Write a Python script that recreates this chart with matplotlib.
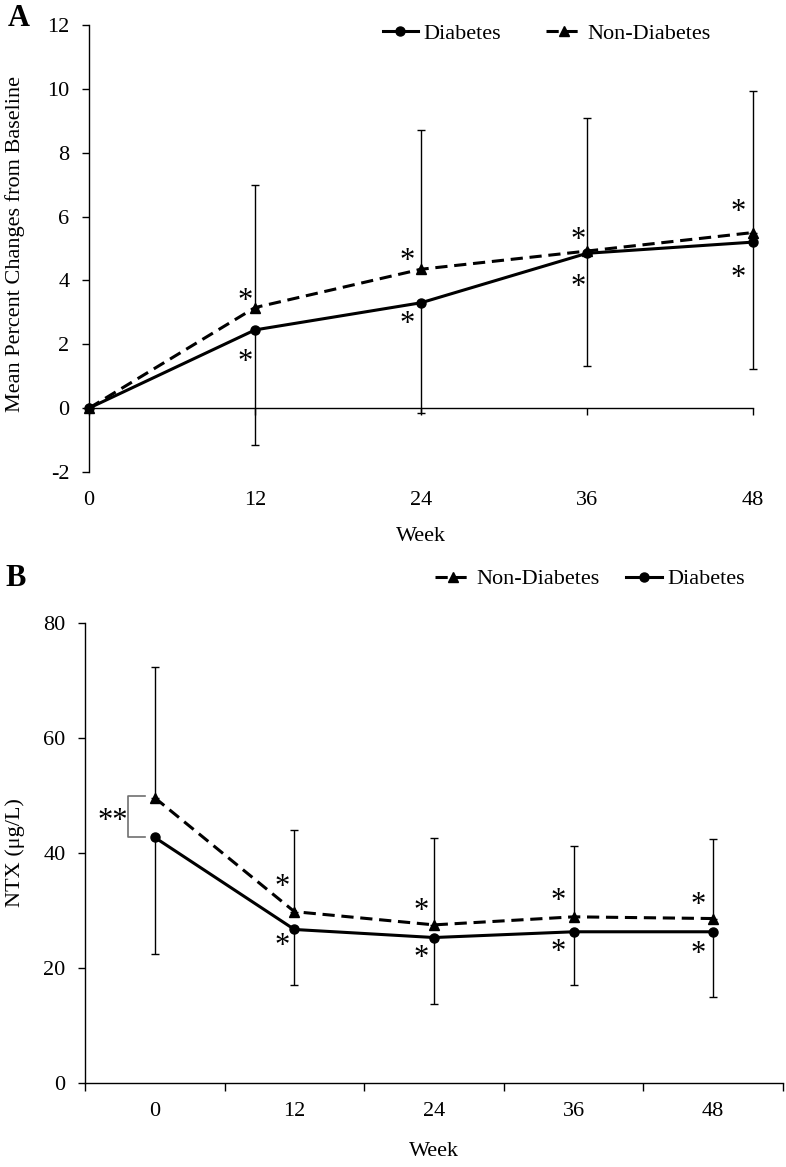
import matplotlib
matplotlib.use("Agg")
import matplotlib.pyplot as plt
from matplotlib.lines import Line2D

plt.rcParams["font.family"] = ["Liberation Serif", "DejaVu Serif"]
plt.rcParams["font.size"] = 16

# Panel A: mean percent change from baseline
weeks = [0, 12, 24, 36, 48]
a_diab = [0.0, 2.45, 3.30, 4.85, 5.20]
a_nondiab = [0.0, 3.15, 4.35, 4.92, 5.50]
a_upper = [0.0, 7.00, 8.72, 9.08, 9.92]   # top of bar (Non-Diabetes + SD)
a_lower = [0.0, -1.15, -0.15, 1.32, 1.22]  # bottom of bar (Diabetes - SD)
a_yticks = [-2, 0, 2, 4, 6, 8, 10, 12]

# Panel B: NTX
b_labels = ["0", "12", "24", "36", "48"]
b_diab = [42.7, 26.7, 25.3, 26.3, 26.3]
b_nondiab = [49.6, 29.8, 27.5, 28.9, 28.6]
b_upper = [72.3, 44.0, 42.6, 41.3, 42.4]
b_lower = [22.4, 17.0, 13.7, 17.1, 15.0]
b_yticks = [0, 20, 40, 60, 80]

W, H = 786, 1167
STAR = 22
fig = plt.figure(figsize=(W / 100, H / 100), dpi=100)


def frac(x0, y0, x1, y1):
    return [x0 / W, 1 - y1 / H, (x1 - x0) / W, (y1 - y0) / H]


def half_bars(ax, x, y, lo, hi):
    c = ax.errorbar(x, y, yerr=[lo, hi], fmt="none", ecolor="black",
                    elinewidth=1.0, capsize=3, capthick=1.0)
    for art in c.lines[1] + c.lines[2]:
        art.set_clip_on(False)


def stars(ax, xs, ys_hi, ys_lo, up_px, down_px, dx_px):
    lift = 0.22 * STAR  # ink of "*" sits above the text centre
    for x, yh, yl, u, d, dx in zip(xs, ys_hi, ys_lo, up_px, down_px, dx_px):
        ax.annotate("*", (x, yh), xytext=(dx * 0.72, (u - lift) * 0.72),
                    textcoords="offset points", ha="center", va="center",
                    fontsize=STAR, annotation_clip=False)
        ax.annotate("*", (x, yl), xytext=(dx * 0.72, (-d - lift) * 0.72),
                    textcoords="offset points", ha="center", va="center",
                    fontsize=STAR, annotation_clip=False)


hd = Line2D([], [], color="black", lw=2.2, marker="o", ms=6.5)
hn = Line2D([], [], color="black", lw=2.2, ls=(0, (4, 2.2)), marker="^", ms=7)

# ---------------- Panel A ----------------
axa = fig.add_axes(frac(89, 25, 753, 472))
axa.set_xlim(0, 48)
axa.set_ylim(-2, 12)

lo = [d - l for d, l in zip(a_diab, a_lower)]
hi = [u - n for u, n in zip(a_upper, a_nondiab)]
half_bars(axa, weeks[1:], a_diab[1:], lo[1:], [0] * 4)
half_bars(axa, weeks[1:], a_nondiab[1:], [0] * 4, hi[1:])
axa.plot(weeks, a_nondiab, color="black", lw=2.2, ls=(0, (4, 2.2)), marker="^",
         ms=7, clip_on=False, zorder=3)
axa.plot(weeks, a_diab, color="black", lw=2.2, marker="o", ms=6.5,
         clip_on=False, zorder=4)
stars(axa, weeks[1:], a_nondiab[1:], a_diab[1:],
      [11, 13, 15, 25], [28, 17, 29, 32], [-10, -14, -9, -15])

for s in ["top", "right", "bottom"]:
    axa.spines[s].set_visible(False)
axa.spines["left"].set_linewidth(1.0)
axa.set_yticks(a_yticks)
axa.set_yticklabels([str(v) for v in a_yticks])
axa.tick_params(axis="y", direction="out", length=5, width=1.0, pad=9)
axa.set_xticks(weeks)
axa.set_xticklabels([str(w) for w in weeks])
axa.tick_params(axis="x", length=0, pad=14)
zero = axa.secondary_xaxis(2 / 14)
zero.set_xticks(weeks)
zero.tick_params(axis="x", direction="out", length=5, width=1.0, labelbottom=False)
zero.spines["bottom"].set_linewidth(1.0)
axa.set_xlabel("Week", labelpad=12)
axa.set_ylabel("Mean Percent Changes from Baseline")
axa.yaxis.set_label_coords((25 - 89) / 664, 0.51)

axa.legend([hd, hn], ["Diabetes", "Non-Diabetes"], ncol=2, frameon=False,
           loc="upper right", bbox_to_anchor=(0.949, 1.023), borderaxespad=0,
           handlelength=1.6, columnspacing=2.0, handletextpad=0.25)
fig.text(8 / W, 1 - 19 / H, "A", fontsize=22, fontweight="bold", va="center")

# ---------------- Panel B ----------------
axb = fig.add_axes(frac(85, 623, 783, 1083))
xb = list(range(len(b_labels)))
axb.set_xlim(-0.5, 4.5)
axb.set_ylim(0, 80)

lo = [d - l for d, l in zip(b_diab, b_lower)]
hi = [u - n for u, n in zip(b_upper, b_nondiab)]
half_bars(axb, xb, b_diab, lo, [0] * 5)
half_bars(axb, xb, b_nondiab, [0] * 5, hi)
axb.plot(xb, b_nondiab, color="black", lw=2.2, ls=(0, (4, 2.2)), marker="^",
         ms=7, zorder=3)
axb.plot(xb, b_diab, color="black", lw=2.2, marker="o", ms=6.5, zorder=4)
stars(axb, xb[1:], b_nondiab[1:], b_diab[1:],
      [29, 18, 20, 18], [12, 16, 16, 18], [-12, -13, -15, -15])

# bracket for baseline difference
bx0, bx1 = -0.193, -0.072
axb.plot([bx1, bx0, bx0, bx1], [49.9, 49.9, b_diab[0], b_diab[0]],
         color="#707070", lw=1.2, zorder=2)
axb.annotate("**", (bx0, (49.9 + b_diab[0]) / 2), xytext=(0, -0.22 * STAR * 0.72),
             textcoords="offset points", ha="right", va="center", fontsize=STAR)

for s in ["top", "right"]:
    axb.spines[s].set_visible(False)
axb.spines["left"].set_linewidth(1.0)
axb.spines["bottom"].set_linewidth(1.0)
axb.set_yticks(b_yticks)
axb.set_yticklabels([str(v) for v in b_yticks])
axb.tick_params(axis="y", direction="out", length=5, width=1.0, pad=9)
axb.set_xticks(xb)
axb.set_xticklabels(b_labels)
axb.tick_params(axis="x", which="major", length=0, pad=14)
axb.set_xticks([i - 0.5 for i in range(len(b_labels) + 1)], minor=True)
axb.tick_params(axis="x", which="minor", direction="out", length=6, width=1.0)
axb.set_xlabel("Week", labelpad=15)
axb.set_ylabel("NTX (μg/L)")
axb.yaxis.set_label_coords((25 - 85) / 698, 0.5)
axb.legend([hn, hd], ["Non-Diabetes", "Diabetes"], ncol=2, frameon=False,
           loc="upper right", bbox_to_anchor=(0.958, 1.137), borderaxespad=0,
           handlelength=1.6, columnspacing=1.2, handletextpad=0.25)
fig.text(5 / W, 1 - 578 / H, "B", fontsize=22, fontweight="bold", va="center")

fig.savefig("out.png", dpi=100)
